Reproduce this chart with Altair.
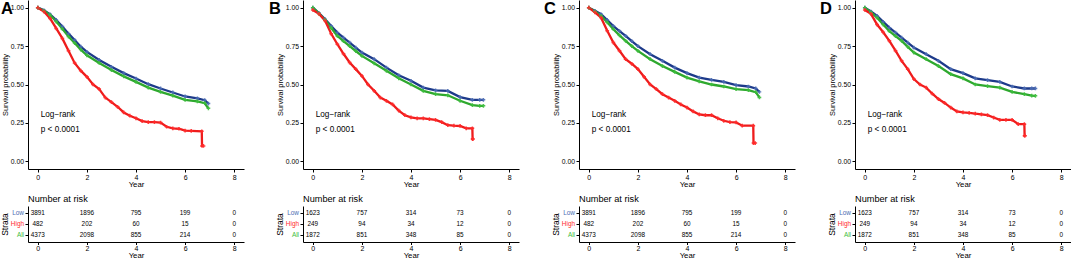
import altair as alt
import pandas as pd

FONT = "Liberation Sans"
GROUPS = ["Low", "High", "All"]
LINE_COLORS = ["#1d3a8a", "#ee1c1c", "#2ea82e"]
LABEL_COLORS = ["#4a6cb4", "#ff2a2a", "#3cbc3c"]
PANEL_LETTERS = ["A", "B", "C", "D"]
LETTER_DX = [-27, -34, -35, -35]

# time grid for Low / All curves (years)
T = [0, 0.25, 0.5, 0.75, 1, 1.25, 1.5, 1.75, 2, 2.5, 3, 3.5, 4, 4.5, 5, 5.5, 6, 6.5, 6.8, 6.95]
# time grid for High curves (years), tails given per panel
TR = [0, 0.25, 0.5, 0.75, 1, 1.25, 1.5, 1.75, 2, 2.25, 2.5, 2.75, 3, 3.25, 3.5, 3.75,
      4, 4.25, 4.5, 4.75, 5, 5.25, 5.5, 5.75, 6, 6.25]

# Panel A
A_low = [1.0, 0.983, 0.957, 0.92, 0.877, 0.831, 0.79, 0.746, 0.712, 0.66, 0.615, 0.574,
         0.539, 0.502, 0.474, 0.448, 0.422, 0.41, 0.398, 0.376]
A_all = [1.0, 0.98, 0.952, 0.91, 0.862, 0.812, 0.77, 0.727, 0.69, 0.64, 0.594, 0.553,
         0.517, 0.48, 0.452, 0.428, 0.4, 0.39, 0.378, 0.345]
A_high = [1.0, 0.975, 0.93, 0.865, 0.8, 0.72, 0.64, 0.59, 0.55, 0.5, 0.47, 0.415, 0.385,
          0.355, 0.318, 0.297, 0.28, 0.262, 0.255, 0.255, 0.252, 0.225, 0.215, 0.212, 0.2, 0.198]
A_tail_t = [6.68, 6.69, 6.75]
A_tail_s = [0.195, 0.10, 0.10]

# Panel B
B_low = [1.0, 0.965, 0.925, 0.88, 0.838, 0.805, 0.773, 0.74, 0.708, 0.665, 0.61, 0.56,
         0.524, 0.48, 0.462, 0.458, 0.418, 0.4, 0.4, 0.4]
B_all = [1.0, 0.962, 0.92, 0.868, 0.816, 0.782, 0.75, 0.718, 0.686, 0.638, 0.589, 0.54,
         0.5, 0.459, 0.437, 0.43, 0.394, 0.366, 0.361, 0.361]
B_high = [0.985, 0.96, 0.915, 0.83, 0.762, 0.7, 0.643, 0.6, 0.556, 0.5, 0.459, 0.415, 0.394,
          0.37, 0.33, 0.3, 0.286, 0.28, 0.28, 0.275, 0.27, 0.255, 0.235, 0.232, 0.23, 0.215]
B_tail_t = [6.5, 6.51, 6.52]
B_tail_s = [0.215, 0.145, 0.145]

# Panel C
C_low = [1.0, 0.98, 0.957, 0.92, 0.88, 0.848, 0.816, 0.782, 0.75, 0.697, 0.654, 0.61,
         0.574, 0.545, 0.53, 0.517, 0.496, 0.487, 0.474, 0.452]
C_all = [1.0, 0.975, 0.946, 0.905, 0.86, 0.82, 0.784, 0.75, 0.719, 0.665, 0.62, 0.582,
         0.545, 0.52, 0.5, 0.487, 0.47, 0.463, 0.45, 0.416]
C_high = [1.0, 0.97, 0.935, 0.85, 0.773, 0.72, 0.665, 0.635, 0.6, 0.55, 0.5, 0.47, 0.437,
          0.415, 0.394, 0.37, 0.35, 0.325, 0.305, 0.3, 0.3, 0.28, 0.264, 0.255, 0.253, 0.232]
C_tail_t = [6.7, 6.71, 6.78]
C_tail_s = [0.232, 0.119, 0.119]

# Panel D
D_low = [1.0, 0.975, 0.946, 0.908, 0.87, 0.838, 0.805, 0.772, 0.74, 0.697, 0.654, 0.6,
         0.574, 0.54, 0.528, 0.517, 0.487, 0.474, 0.474, 0.474]
D_all = [1.0, 0.97, 0.935, 0.89, 0.848, 0.815, 0.784, 0.745, 0.708, 0.665, 0.62, 0.567,
         0.54, 0.5, 0.49, 0.48, 0.452, 0.437, 0.428, 0.426]
D_high = [0.985, 0.96, 0.89, 0.84, 0.784, 0.72, 0.654, 0.6, 0.535, 0.5, 0.48, 0.44, 0.405,
          0.38, 0.35, 0.325, 0.318, 0.315, 0.31, 0.305, 0.3, 0.285, 0.27, 0.27, 0.27, 0.242]
D_tail_t = [6.5, 6.51, 6.52]
D_tail_s = [0.242, 0.167, 0.167]

# Number at risk tables
RISK_T = [0, 2, 4, 6, 8]
AC_risk = {"Low": [3891, 1896, 795, 199, 0], "High": [482, 202, 60, 15, 0],
           "All": [4373, 2098, 855, 214, 0]}
BD_risk = {"Low": [1623, 757, 314, 73, 0], "High": [249, 94, 34, 12, 0],
           "All": [1872, 851, 348, 85, 0]}

XDOM = [-0.4, 8.4]


def x_axis(tick=3, lpad=1, tpad=1):
    return alt.Axis(values=RISK_T, title="Year", labelFontSize=7, titleFontSize=7.8,
                    tickSize=tick, labelPadding=lpad, titlePadding=tpad, grid=False)


def km_panel(letter, dx, low, allv, high, tail_t, tail_s):
    rows = []
    for t, s in zip(T, low):
        rows.append({"t": t, "S": s, "grp": "Low"})
    for t, s in zip(T, allv):
        rows.append({"t": t, "S": s, "grp": "All"})
    for t, s in zip(TR + tail_t, high + tail_s):
        rows.append({"t": t, "S": s, "grp": "High"})
    df = pd.DataFrame(rows)
    x = alt.X("t:Q", scale=alt.Scale(domain=XDOM, nice=False, zero=False),
              axis=x_axis(3, 1, 0))
    y = alt.Y("S:Q", scale=alt.Scale(domain=[-0.05, 1.05], nice=False, zero=False),
              axis=alt.Axis(values=[0, 0.25, 0.5, 0.75, 1.0], format=".2f",
                            title="Survival probability", titleFontSize=7.4,
                            labelFontSize=6.8, tickSize=3, labelPadding=1.5,
                            titlePadding=1, grid=False))
    color = alt.Color("grp:N", scale=alt.Scale(domain=GROUPS, range=LINE_COLORS), legend=None)
    fill = alt.Fill("grp:N", scale=alt.Scale(domain=GROUPS, range=LABEL_COLORS), legend=None)
    lines = alt.Chart(df).mark_line(strokeWidth=2.3).encode(x=x, y=y, color=color, detail="grp:N")
    pts = alt.Chart(df).mark_point(shape="cross", filled=True, size=14, opacity=0.9).encode(
        x=x, y=y, fill=fill)
    ann = pd.DataFrame({"t": [0.12, 0.12], "S": [0.3, 0.205], "lab": ["Log\u2212rank", "p < 0.0001"]})
    txt = alt.Chart(ann).mark_text(align="left", fontSize=8.2, color="black").encode(
        x="t:Q", y="S:Q", text="lab:N")
    let = alt.Chart(pd.DataFrame({"lab": [letter]})).mark_text(
        align="left", baseline="top", fontSize=16.5, fontWeight="bold", color="black", dx=dx
    ).encode(x=alt.value(0), y=alt.value(1), text="lab:N")
    return alt.layer(lines, pts, txt, let).properties(width=216, height=169)


def risk_panel(risk):
    rows = []
    for g in GROUPS:
        for t, n in zip(RISK_T, risk[g]):
            rows.append({"t": t, "grp": g, "n": str(n)})
    df = pd.DataFrame(rows)
    x = alt.X("t:Q", scale=alt.Scale(domain=XDOM, nice=False, zero=False),
              axis=x_axis(2.5, 0, 0))
    yaxis = alt.Axis(labels=False, title="Strata", tickSize=3, titlePadding=15.5,
                     titleFontSize=8.5, grid=False)
    y = alt.Y("grp:N", scale=alt.Scale(type="point", domain=GROUPS, padding=0.6), axis=yaxis)
    nums = alt.Chart(df).mark_text(fontSize=6.4, color="black").encode(x=x, y=y, text="n:N")
    labdf = pd.DataFrame({"grp": GROUPS})
    labs = alt.Chart(labdf).mark_text(align="right", fontSize=6.4, dx=-4).encode(
        x=alt.value(0), y=y, text="grp:N",
        fill=alt.Fill("grp:N", scale=alt.Scale(domain=GROUPS, range=LABEL_COLORS), legend=None))
    return alt.layer(nums, labs).properties(
        width=216, height=36,
        title=alt.TitleParams("Number at risk", anchor="start", frame="group", fontSize=9.2,
                              fontWeight="normal", offset=2, font=FONT, color="black"))


panels = []
data = [(A_low, A_all, A_high, A_tail_t, A_tail_s, AC_risk),
        (B_low, B_all, B_high, B_tail_t, B_tail_s, BD_risk),
        (C_low, C_all, C_high, C_tail_t, C_tail_s, AC_risk),
        (D_low, D_all, D_high, D_tail_t, D_tail_s, BD_risk)]
for letter, dx, (lo, al, hi, tt, ts, rk) in zip(PANEL_LETTERS, LETTER_DX, data):
    panels.append(alt.vconcat(km_panel(letter, dx, lo, al, hi, tt, ts), risk_panel(rk), spacing=6))

chart = alt.hconcat(*panels, spacing=25, padding=0).configure_view(strokeWidth=0).configure_axis(
    domainColor="black", tickColor="black", labelColor="black", titleColor="black",
    labelFont=FONT, titleFont=FONT, titleFontWeight="normal", domainWidth=1, tickWidth=1
).configure_text(font=FONT)

chart.save("out.html", embed_options={"renderer": "svg", "actions": False})
